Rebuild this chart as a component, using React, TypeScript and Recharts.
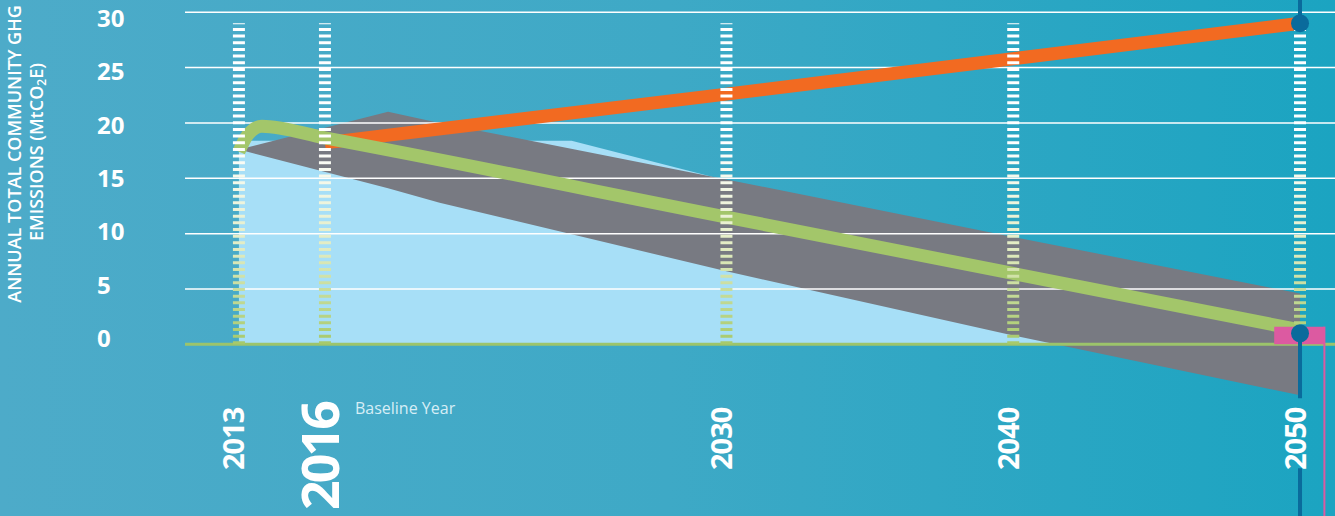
import React from "react";
import {
  ComposedChart,
  Area,
  Line,
  XAxis,
  YAxis,
  ReferenceLine,
  ReferenceDot,
  ReferenceArea,
} from "recharts";

// axis setup
const yearTicks = [2013, 2016, 2030, 2040, 2050];
const valueTicks = [0, 5, 10, 15, 20, 25, 30];
const gridValues = [5, 10, 15, 20, 25, 30];
const yearDomain = [2011.12, 2051.22];
const valueDomain = [-15.5, 31.1];
const baselineYear = 2016;

// series (MtCO2e)
const businessAsUsual = [
  { year: 2016, value: 18.2 },
  { year: 2030, value: 22.6 },
  { year: 2050, value: 29.0 },
];

const targetPath = [
  { year: 2013, value: 17.4 },
  { year: 2013.3, value: 18.9 },
  { year: 2013.8, value: 19.7 },
  { year: 2016, value: 18.65 },
  { year: 2030, value: 11.5 },
  { year: 2050, value: 1.3 },
];

const lightBase = [
  { year: 2013, value: 18.4 },
  { year: 2024.6, value: 18.4 },
  { year: 2029.7, value: 15.0 },
  { year: 2042.5, value: 0 },
];

const grayBand = [
  { year: 2013, range: [17.6, 17.6] },
  { year: 2018.2, range: [14.1, 21.0] },
  { year: 2020, range: [12.8, 20.0] },
  { year: 2030, range: [6.6, 14.9] },
  { year: 2040, range: [0.8, 9.7] },
  { year: 2050, range: [-4.6, 4.6] },
];

const targetBox = { x1: 2049.1, x2: 2050.85, top: 1.6 };
const targetDot = { year: 2050, value: 1.0 };
const dashTop = 29;

const FONT = "'Open Sans', sans-serif";
const DARK = "#0a6b9c";

const YTick = (props: any) => {
  const { y, payload } = props;
  // labels sit on a slightly tighter spacing than the grid
  const shift = -6 + payload.value * 0.4;
  return (
    <text
      x={97}
      y={y + shift}
      dy="0.36em"
      fill="#fff"
      fontFamily={FONT}
      fontWeight={700}
      fontSize={24}
      textAnchor="start"
    >
      {payload.value}
    </text>
  );
};

const YearLabel = (props: any) => {
  const { viewBox, year } = props;
  const x = viewBox ? viewBox.x : 0;
  const big = year === baselineYear;
  return (
    <g>
      <text
        transform={`translate(${x - 6},${big ? 510 : 470}) rotate(-90)`}
        fill="#fff"
        fontFamily={FONT}
        fontWeight={700}
        fontSize={big ? 52 : 29}
        letterSpacing={big ? -3 : -1}
        textAnchor="start"
        dominantBaseline="central"
      >
        {year}
      </text>
      {big && (
        <text x={x + 30} y={414} fill="#d6eef6" fontFamily={FONT} fontSize={16}>
          Baseline Year
        </text>
      )}
    </g>
  );
};

const AxisTitle = () => (
  <g fill="#fff" fontFamily={FONT} fontWeight={600} fontSize={18}>
    <text
      transform="translate(14,154) rotate(-90)"
      textAnchor="middle"
      dominantBaseline="central"
    >
      ANNUAL TOTAL COMMUNITY GHG
    </text>
    <text
      transform="translate(36,152) rotate(-90)"
      textAnchor="middle"
      dominantBaseline="central"
    >
      EMISSIONS (MtCO
      <tspan fontSize={12} dy={5}>
        2
      </tspan>
      <tspan dy={-5}>E)</tspan>
    </text>
  </g>
);

export default function App() {
  const orangeEnd = businessAsUsual[businessAsUsual.length - 1];
  return (
    <div
      style={{
        position: "absolute",
        left: 0,
        top: 0,
        width: 1335,
        height: 516,
        overflow: "hidden",
        background: "linear-gradient(90deg, #4dabc9 0%, #3ea9c6 50%, #1ba4c1 100%)",
      }}
    >
      <ComposedChart width={1335} height={516} margin={{ top: 0, right: 0, bottom: 0, left: 0 }}>
        <defs>
          <linearGradient id="dashFade" gradientUnits="userSpaceOnUse" x1="0" y1="22" x2="0" y2="344">
            <stop offset="0" stopColor="#ffffff" />
            <stop offset="0.38" stopColor="#ffffff" />
            <stop offset="0.7" stopColor="#e2ecc2" />
            <stop offset="1" stopColor="#a6c96a" />
          </linearGradient>
        </defs>
        <XAxis type="number" dataKey="year" domain={yearDomain} allowDataOverflow hide />
        <YAxis
          type="number"
          width={185}
          domain={valueDomain}
          ticks={valueTicks}
          allowDataOverflow
          axisLine={false}
          tickLine={false}
          tick={<YTick />}
          label={<AxisTitle />}
        />

        <Area
          data={lightBase}
          dataKey="value"
          type="linear"
          baseValue={0}
          fill="#a7dff7"
          fillOpacity={1}
          stroke="none"
          isAnimationActive={false}
          zIndex={100}
        />
        <Area
          data={grayBand}
          dataKey="range"
          type="linear"
          fill="#787a82"
          fillOpacity={1}
          stroke="none"
          isAnimationActive={false}
          zIndex={110}
        />

        {gridValues.map((v) => (
          <ReferenceLine key={`g${v}`} y={v} stroke="#ffffff" strokeWidth={1.5} zIndex={150} />
        ))}
        <ReferenceLine y={0} stroke="#9cc46b" strokeWidth={3} zIndex={160} />

        <Line
          data={businessAsUsual}
          dataKey="value"
          type="linear"
          stroke="#f26a21"
          strokeWidth={13}
          dot={false}
          activeDot={false}
          isAnimationActive={false}
          zIndex={400}
        />
        <Line
          data={targetPath}
          dataKey="value"
          type="monotone"
          stroke="#a3c66a"
          strokeWidth={13}
          dot={false}
          activeDot={false}
          isAnimationActive={false}
          zIndex={410}
        />

        {yearTicks.map((yr) => (
          <ReferenceLine
            key={`d${yr}`}
            segment={[
              { x: yr, y: 0 },
              { x: yr, y: dashTop },
            ]}
            stroke="url(#dashFade)"
            strokeWidth={12}
            strokeDasharray="3 3.67"
            zIndex={500}
          />
        ))}

        <ReferenceArea
          x1={targetBox.x1}
          x2={targetBox.x2}
          y1={0}
          y2={targetBox.top}
          fill="#dc5aa1"
          fillOpacity={1}
          stroke="none"
          zIndex={600}
        />
        <ReferenceLine
          segment={[
            { x: targetBox.x2, y: targetBox.top },
            { x: targetBox.x2, y: valueDomain[0] },
          ]}
          stroke="#dc5aa1"
          strokeWidth={2}
          zIndex={610}
        />

        <ReferenceLine
          segment={[
            { x: orangeEnd.year, y: valueDomain[1] },
            { x: orangeEnd.year, y: orangeEnd.value },
          ]}
          stroke={DARK}
          strokeWidth={4}
          zIndex={700}
        />
        <ReferenceLine
          segment={[
            { x: targetDot.year, y: targetDot.value },
            { x: targetDot.year, y: valueDomain[0] },
          ]}
          stroke={DARK}
          strokeWidth={4}
          strokeDasharray="65 70 400"
          zIndex={700}
        />
        <ReferenceDot x={orangeEnd.year} y={orangeEnd.value} r={9} fill={DARK} stroke="none" zIndex={800} />
        <ReferenceDot x={targetDot.year} y={targetDot.value} r={9} fill={DARK} stroke="none" zIndex={800} />

        {yearTicks.map((yr) => (
          <ReferenceLine
            key={`l${yr}`}
            x={yr}
            stroke="none"
            zIndex={900}
            label={(p: any) => <YearLabel {...p} year={yr} />}
          />
        ))}
      </ComposedChart>
    </div>
  );
}
